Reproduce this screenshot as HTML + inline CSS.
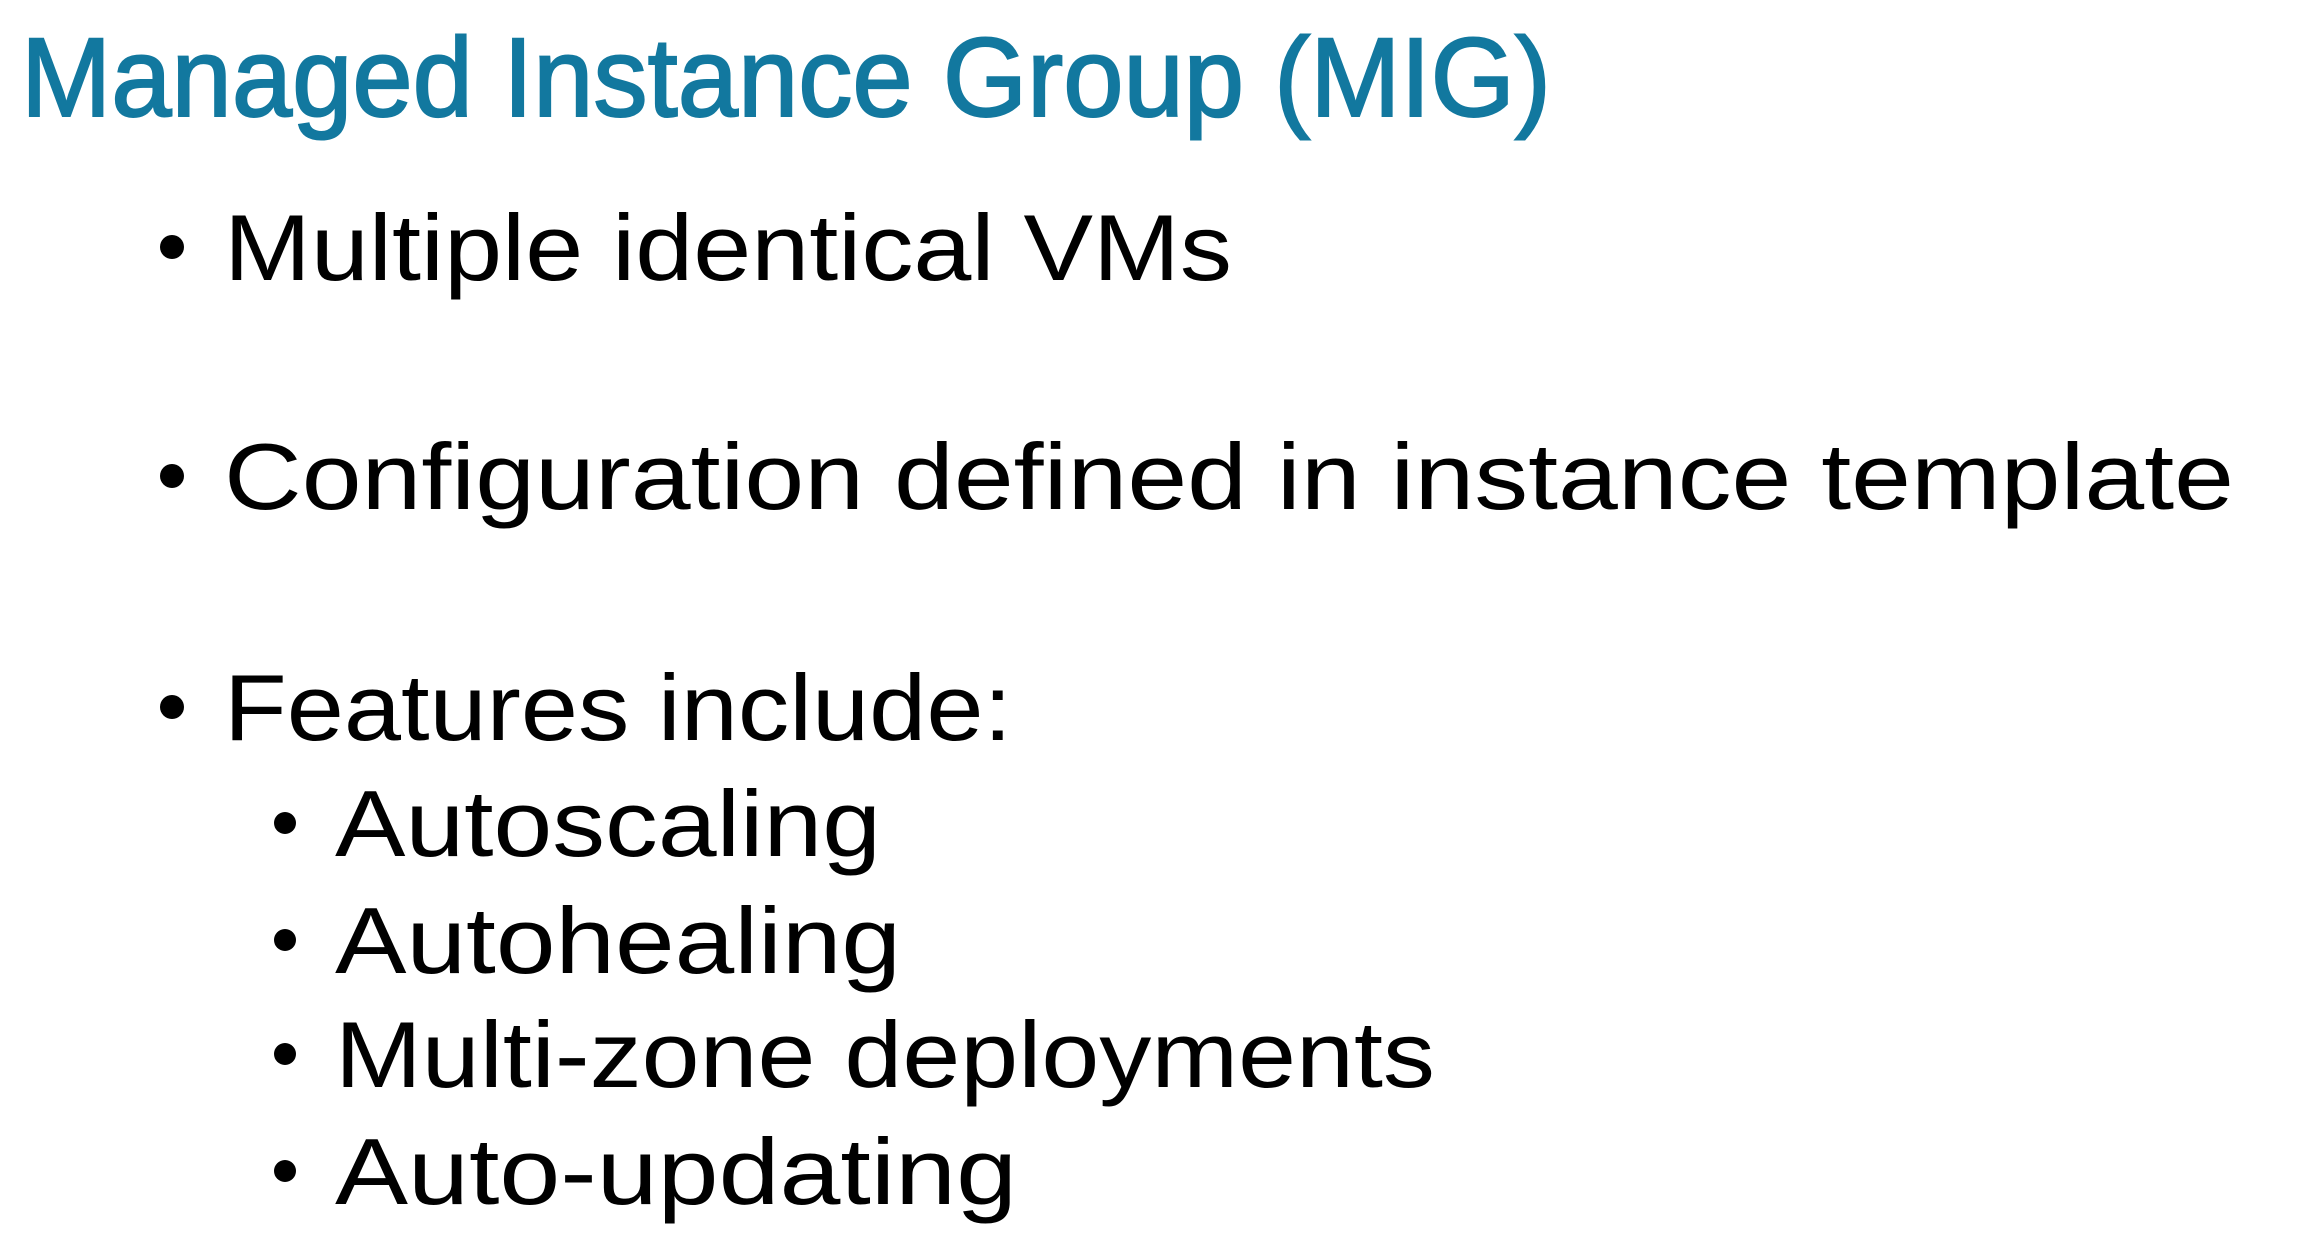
<!DOCTYPE html>
<html><head><meta charset="utf-8"><style>
html,body{margin:0;padding:0;background:#fff;width:2316px;height:1258px;overflow:hidden}
svg{display:block}
text{font-family:"Liberation Sans",sans-serif}
</style></head><body>
<svg width="2316" height="1258" viewBox="0 0 2316 1258" xmlns="http://www.w3.org/2000/svg">
<text x="21" y="116" font-size="112" fill="#12789f" stroke="#12789f" stroke-width="2" textLength="1530" lengthAdjust="spacingAndGlyphs">Managed Instance Group (MIG)</text>
<g fill="#000">
<circle cx="172" cy="247" r="12"/>
<text x="224" y="280" font-size="94" textLength="1008" lengthAdjust="spacingAndGlyphs">Multiple identical VMs</text>
<circle cx="172" cy="476" r="12"/>
<text x="224" y="509" font-size="94" textLength="2010" lengthAdjust="spacingAndGlyphs">Configuration defined in instance template</text>
<circle cx="172" cy="707" r="12"/>
<text x="224" y="740" font-size="94" textLength="788" lengthAdjust="spacingAndGlyphs">Features include:</text>
<circle cx="285" cy="823" r="11"/>
<text x="335" y="856" font-size="94" textLength="546" lengthAdjust="spacingAndGlyphs">Autoscaling</text>
<circle cx="285" cy="940" r="11"/>
<text x="335" y="973" font-size="94" textLength="566" lengthAdjust="spacingAndGlyphs">Autohealing</text>
<circle cx="285" cy="1054" r="11"/>
<text x="335" y="1087" font-size="94" textLength="1100" lengthAdjust="spacingAndGlyphs">Multi-zone deployments</text>
<circle cx="285" cy="1171" r="11"/>
<text x="335" y="1204" font-size="94" textLength="682" lengthAdjust="spacingAndGlyphs">Auto-updating</text>
</g>
</svg>
</body></html>
